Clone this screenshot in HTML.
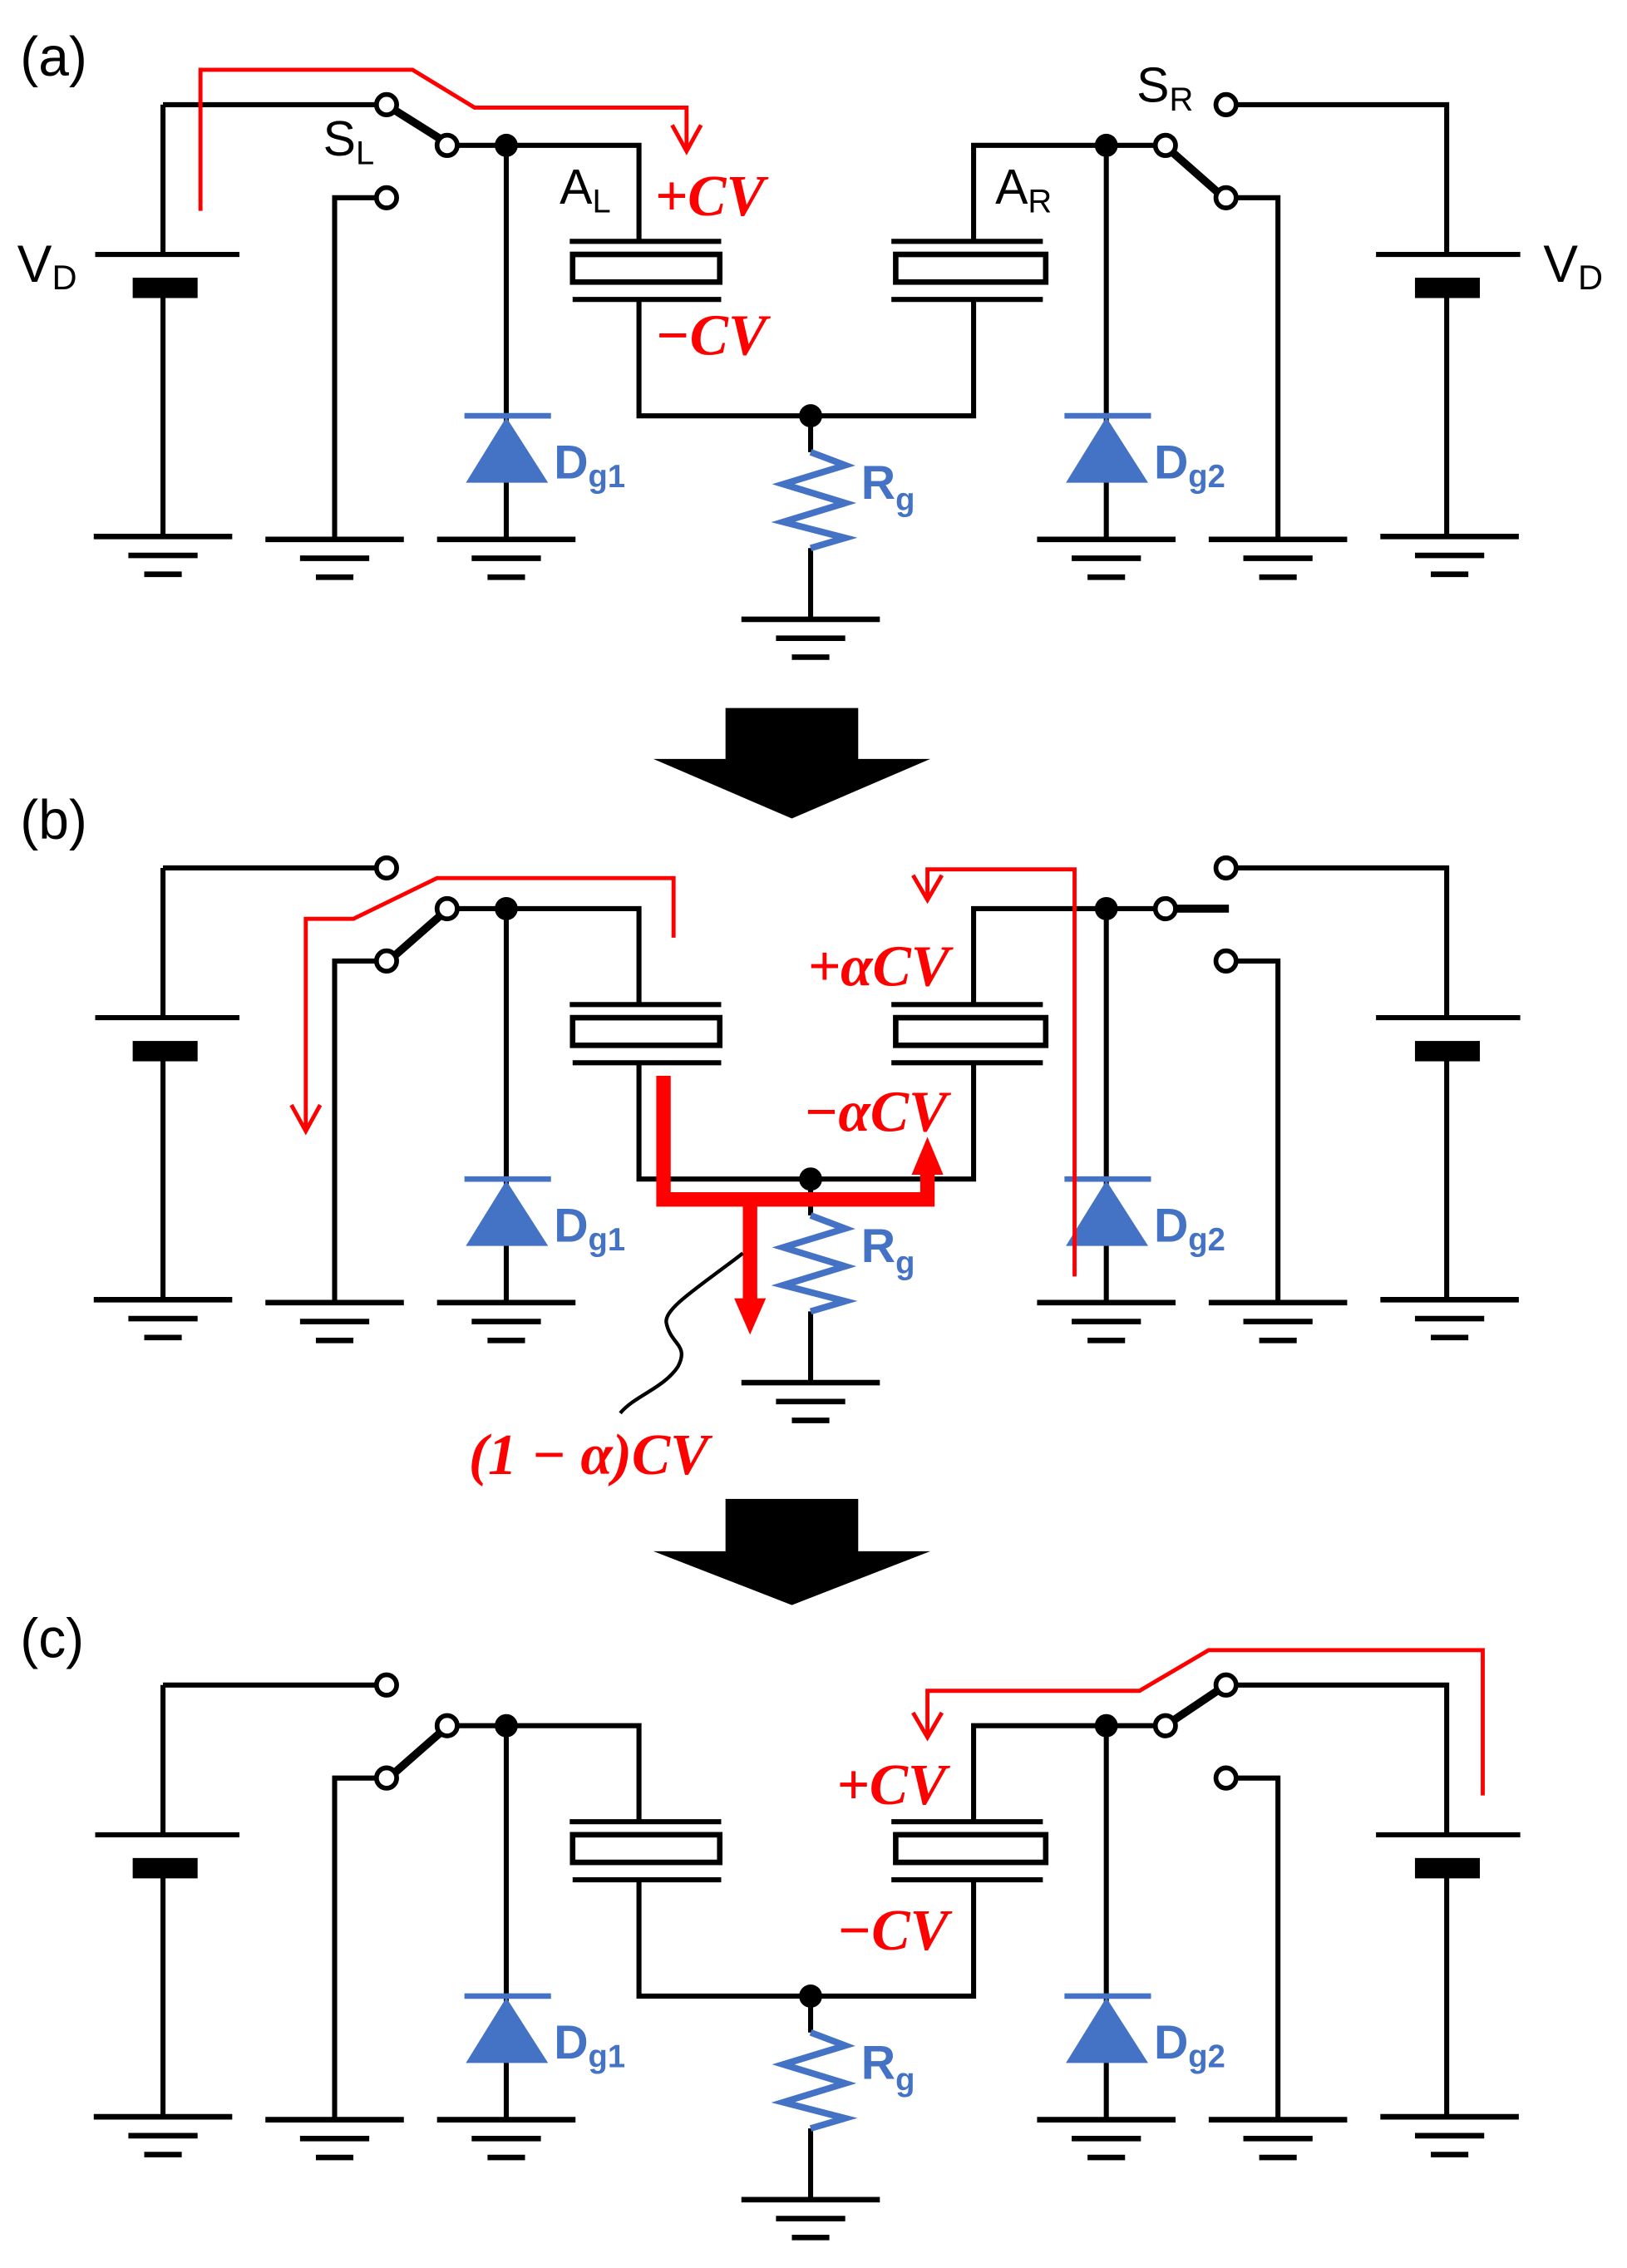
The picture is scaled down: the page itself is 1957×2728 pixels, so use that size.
<!DOCTYPE html>
<html><head><meta charset="utf-8"><style>
html,body{margin:0;padding:0;background:#fff}
svg{display:block}
.w{stroke:#000;stroke-width:3.5;fill:none}
.t{font-family:"Liberation Sans",sans-serif}
.cv{font-family:"Liberation Serif",serif;font-weight:bold;font-style:italic;fill:#f00;font-size:40px}
.bl{font-family:"Liberation Sans",sans-serif;font-weight:bold;fill:#4472C4}
.r{stroke:#f00;stroke-width:2.8;fill:none}
</style></head><body>
<svg width="1957" height="2728" viewBox="0 0 1128 1560" preserveAspectRatio="none" xmlns="http://www.w3.org/2000/svg">
<defs>
<g id="gnd"><path d="M-48,0H48M-24,13H24M-13,26H13" stroke="#000" stroke-width="3.8" fill="none"/></g>
<g id="c">
<path class="w" d="M113,72H261M113,72V175M66,175H166M113,204V370"/>
<rect x="92" y="191" width="45" height="14" fill="#000"/>
<path class="w" d="M857,72H1003V175M954,175H1054M1003,204V370"/>
<rect x="981" y="191" width="45" height="14" fill="#000"/>
<path class="w" d="M261,136H232V370M857,136H886V370"/>
<path class="w" d="M317,100H443V166M801,100H675V166"/>
<path class="w" d="M395,166H500M397,206H500M618,166H723M618,206H723"/>
<rect x="397" y="175" width="102" height="19" fill="#fff" stroke="#000" stroke-width="3.8"/>
<rect x="621" y="175" width="104" height="19" fill="#fff" stroke="#000" stroke-width="3.8"/>
<path class="w" d="M443,206V286H675V206"/>
<path class="w" d="M351,100V370M767,100V370"/>
<path d="M351,287L323,332H380Z" fill="#4472C4"/>
<path d="M767,287L739,332H796Z" fill="#4472C4"/>
<path d="M322,286H382M738,286H798" stroke="#4472C4" stroke-width="3.8"/>
<path class="w" d="M562,286V311M562,377V425"/>
<path d="M562,311L586,320L543,333L586,346L543,359L586,370L562,377" stroke="#4472C4" stroke-width="4.5" fill="none"/>
<circle cx="351" cy="100" r="8"/><circle cx="767" cy="100" r="8"/><circle cx="562" cy="286" r="8"/>
<g fill="#fff" stroke="#000" stroke-width="3.3">
<circle cx="268" cy="72" r="7"/><circle cx="268" cy="136" r="7"/><circle cx="310" cy="100" r="7"/>
<circle cx="850" cy="72" r="7"/><circle cx="850" cy="136" r="7"/><circle cx="808" cy="100" r="7"/>
</g>
<use href="#gnd" x="113" y="369"/><use href="#gnd" x="232" y="371"/><use href="#gnd" x="351" y="371"/>
<use href="#gnd" x="767" y="371"/><use href="#gnd" x="886" y="371"/><use href="#gnd" x="1005" y="369"/>
<use href="#gnd" x="562" y="426"/>
<text class="bl" x="384" y="329" font-size="33">D<tspan font-size="22" dy="6">g1</tspan></text>
<text class="bl" x="800" y="329" font-size="33">D<tspan font-size="22" dy="6">g2</tspan></text>
<text class="bl" x="597" y="343" font-size="33">R<tspan font-size="22" dy="8">g</tspan></text>
</g>
</defs>

<text class="t" x="14" y="52" font-size="38">(a)</text>
<use href="#c"/>
<path d="M274,76L306,96M844,132L812,104" stroke="#000" stroke-width="5.5"/>
<text class="t" x="12" y="194" font-size="36">V<tspan font-size="24" dy="5">D</tspan></text>
<text class="t" x="1070" y="194" font-size="36">V<tspan font-size="24" dy="5">D</tspan></text>
<text class="t" x="224" y="107" font-size="34">S<tspan font-size="23" dy="6">L</tspan></text>
<text class="t" x="788" y="70" font-size="34">S<tspan font-size="23" dy="6">R</tspan></text>
<text class="t" x="388" y="140" font-size="34">A<tspan font-size="23" dy="6">L</tspan></text>
<text class="t" x="690" y="140" font-size="34">A<tspan font-size="23" dy="6">R</tspan></text>
<path class="r" d="M139,145V48H286L329,74H476V104M466,86L476,104L486,86"/>
<text class="cv" x="454" y="148">+CV</text>
<text class="cv" x="454" y="244">−CV</text>

<rect x="503" y="487" width="92" height="36" fill="#000"/>
<path d="M453,522H645L549,563Z" fill="#000"/>

<text class="t" x="14" y="577" font-size="38">(b)</text>
<g transform="translate(0,525)"><use href="#c"/>
<path d="M274,132L305,105M815,100H852" stroke="#000" stroke-width="5.5"/></g>
<path class="r" d="M467,645V604H303L245,632H212V778M202,760L212,778L222,760"/>
<path class="r" d="M745,878V598H643V618M633,602L643,619L653,602"/>
<path d="M460,740V825H643V806M520,825V895" stroke="#f00" stroke-width="10" fill="none"/>
<path d="M632,808H654L643,782Z" fill="#f00"/>
<path d="M509,893H531L520,918Z" fill="#f00"/>
<path d="M515,862C485,885 460,900 462,910C465,925 478,925 470,940C460,955 440,960 430,972" stroke="#000" stroke-width="2.5" fill="none"/>
<text class="cv" x="560" y="678">+αCV</text>
<text class="cv" x="557" y="778">−αCV</text>
<text class="cv" x="325" y="1014">(1 − α)CV</text>

<rect x="503" y="1031" width="92" height="37" fill="#000"/>
<path d="M453,1067H645L549,1104Z" fill="#000"/>

<text class="t" x="14" y="1140" font-size="38">(c)</text>
<g transform="translate(0,1087)"><use href="#c"/>
<path d="M274,132L305,105M814,96L844,76" stroke="#000" stroke-width="5.5"/></g>
<path class="r" d="M1028,1235V1135H838L790,1163H643V1195M633,1178L643,1195L653,1178"/>
<text class="cv" x="580" y="1241">+CV</text>
<text class="cv" x="580" y="1341">−CV</text>
</svg>
</body></html>
